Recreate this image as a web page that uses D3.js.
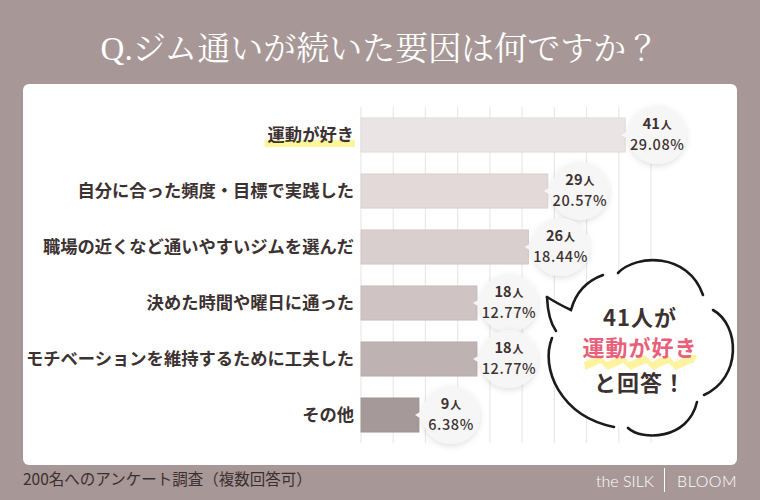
<!DOCTYPE html>
<html><head><meta charset="utf-8">
<script src="https://cdn.jsdelivr.net/npm/d3@7/dist/d3.min.js"></script>
<style>
html,body{margin:0;padding:0;background:#a89797;}
svg{display:block;}
text{font-family:"Noto Sans CJK JP","Noto Sans",sans-serif;}
</style></head>
<body><svg id="chart" width="760" height="500"></svg>
<script>
const title = "Q.ジム通いが続いた要因は何ですか？";
const categories = ["運動が好き","自分に合った頻度・目標で実践した","職場の近くなど通いやすいジムを選んだ","決めた時間や曜日に通った","モチベーションを維持するために工夫した","その他"];
const counts = [41,29,26,18,18,9];
const percents = ["29.08%","20.57%","18.44%","12.77%","12.77%","6.38%"];
const gridTicks = [0,5,10,15,20,25,30,35,40,45];
const footnote = "200名へのアンケート調査（複数回答可）";
const calloutLines = ["41人が","運動が好き","と回答！"];

const barColors = ["#ebe4e4","#e3d9d9","#dacfcf","#cfc3c3","#bfb2b2","#a69999"];
const dark = "#3d3232";

const svg = d3.select("#chart");
const defs = svg.append("defs");
const f = defs.append("filter").attr("id","sh").attr("x","-30%").attr("y","-30%").attr("width","160%").attr("height","160%");
f.append("feDropShadow").attr("dx",0).attr("dy",2).attr("stdDeviation",3).attr("flood-color","#000").attr("flood-opacity",0.13);

svg.append("rect").attr("width",760).attr("height",500).attr("fill","#a89797");
svg.append("rect").attr("x",23).attr("y",84).attr("width",714).attr("height",381).attr("rx",6).attr("fill","#fff");

svg.append("text").attr("x",380).attr("y",60).attr("text-anchor","middle")
  .attr("fill","#fff").attr("font-size",33)
  .style("font-family","'Liberation Serif','Noto Serif CJK JP','Noto Sans CJK JP',serif")
  .text(title);

const x = d3.scaleLinear().domain([0,45]).range([361,651]);
const y = d3.scaleBand().domain(categories).range([107,443]).paddingInner(0.39).paddingOuter(0.195);

// gridlines
svg.append("g").selectAll("line").data(gridTicks).join("line")
  .attr("x1",d=>x(d)).attr("x2",d=>x(d)).attr("y1",107).attr("y2",443)
  .attr("stroke","#ece7e7").attr("stroke-width",1.2);

// highlight under first label
const hl = svg.append("rect").attr("fill","#fff59a");

// labels
const labels = svg.append("g").selectAll("text").data(categories).join("text")
  .attr("x",354).attr("y",d=>y(d)+y.bandwidth()/2+6).attr("text-anchor","end")
  .attr("font-size",17.3).attr("font-weight",700).attr("fill",dark)
  .text(d=>d);
{
  const bb = labels.nodes()[0].getBBox();
  hl.attr("x",bb.x-3).attr("y",y(categories[0])+y.bandwidth()/2+5).attr("width",bb.width+4).attr("height",7);
}

// bars
svg.append("g").selectAll("rect").data(categories).join("rect")
  .attr("x",x(0)).attr("y",d=>y(d)).attr("height",y.bandwidth())
  .attr("width",(d,i)=>x(counts[i])-x(0))
  .attr("fill",(d,i)=>barColors[i])
  .attr("stroke",(d,i)=>d3.color(barColors[i]).darker(0.15)).attr("stroke-width",0.8);

// value bubbles
const bub = svg.append("g").selectAll("g").data(categories).join("g")
  .attr("transform",(d,i)=>`translate(${x(counts[i])+32},${y(d)+y.bandwidth()/2})`);
bub.append("circle").attr("r",29).attr("fill","#f7f6f6").attr("filter","url(#sh)");
bub.append("path").attr("d","M-26,-6 L-36,0 L-26,6 Z").attr("fill","#f7f6f6");
const t1 = bub.append("text").attr("y",-6).attr("text-anchor","middle").attr("fill",dark)
  .attr("font-size",14.5).attr("font-weight",700);
t1.append("tspan").text((d,i)=>counts[i]);
t1.append("tspan").attr("font-size",11).attr("dx",1).text("人");
bub.append("text").attr("y",15).attr("text-anchor","middle").attr("fill",dark)
  .attr("font-size",14.5).attr("font-weight",500).style("letter-spacing","0.6px")
  .text((d,i)=>percents[i]);

// callout balloon
const cg = svg.append("g");
const blob = [[547,297],[570,310],[585,286],[603,275],[618,272],[640,261],[660,259],[683,267],[703,295],[713,310],[728,323],[734,348],[729,372],[712,390],[697,402],[690,418],[673,432],[650,435],[628,428],[614,427],[583,418],[563,402],[551,380],[549,355],[554,333]];
cg.append("path").attr("d",d3.line().curve(d3.curveLinearClosed)(blob)).attr("fill","#fff");
const strokes = [
  "M547,297 Q560,305 571,310 Q578,284 603,275",
  "M618,273 C636,254 688,252 703,295",
  "M713,310 C740,325 742,378 704,395",
  "M628,428 C642,441 688,440 697,402",
  "M552,338 C540,368 560,416 614,427",
  "M547,297 Q548,320 556,331"
];
cg.selectAll("path.s").data(strokes).join("path").attr("class","s").attr("d",d=>d)
  .attr("fill","none").attr("stroke","#1c1a1a").attr("stroke-width",2.6).attr("stroke-linecap","round");

// zigzag highlight
const zx0 = 584, zx1 = 697, zy = 358;
const n = 5, w = (zx1-zx0)/n;
let pts = [];
for (let i=0;i<n;i++){ pts.push([zx0+i*w, zy+4],[zx0+i*w+w*0.7, zy-3]); }
pts.push([zx1, zy-3],[zx1-3, zy+5]);
for (let i=n-1;i>=0;i--){ pts.push([zx0+i*w+w*0.75, zy+5],[zx0+i*w+w*0.05, zy+12]); }
cg.append("path").attr("d",d3.line()(pts)+"Z").attr("fill","#fff3a0");

const cx = 640;
cg.append("text").attr("x",cx).attr("y",326).attr("text-anchor","middle").attr("font-size",22).attr("font-weight",700).attr("fill",dark).style("letter-spacing","1px").text(calloutLines[0]);
cg.append("text").attr("x",cx).attr("y",356).attr("text-anchor","middle").attr("font-size",22).attr("font-weight",700).attr("fill","#e8607a").style("letter-spacing","1px").text(calloutLines[1]);
cg.append("text").attr("x",cx).attr("y",391).attr("text-anchor","middle").attr("font-size",22).attr("font-weight",700).attr("fill",dark).style("letter-spacing","1px").text(calloutLines[2]);

// footer
svg.append("text").attr("x",23).attr("y",485).attr("font-size",15.5).attr("fill","#3a3030").text(footnote);
svg.append("text").attr("x",654).attr("y",487).attr("text-anchor","end").attr("font-size",16).attr("font-weight",300)
  .attr("fill","#fff").style("font-family","Lato,'Open Sans',sans-serif").text("the SILK");
svg.append("line").attr("x1",664.5).attr("x2",664.5).attr("y1",468).attr("y2",492).attr("stroke","#fff").attr("stroke-width",1);
svg.append("text").attr("x",737).attr("y",487).attr("text-anchor","end").attr("font-size",16).attr("font-weight",300)
  .attr("fill","#fff").style("font-family","Lato,'Open Sans',sans-serif").style("letter-spacing","0.5px").text("BLOOM");
</script></body></html>
